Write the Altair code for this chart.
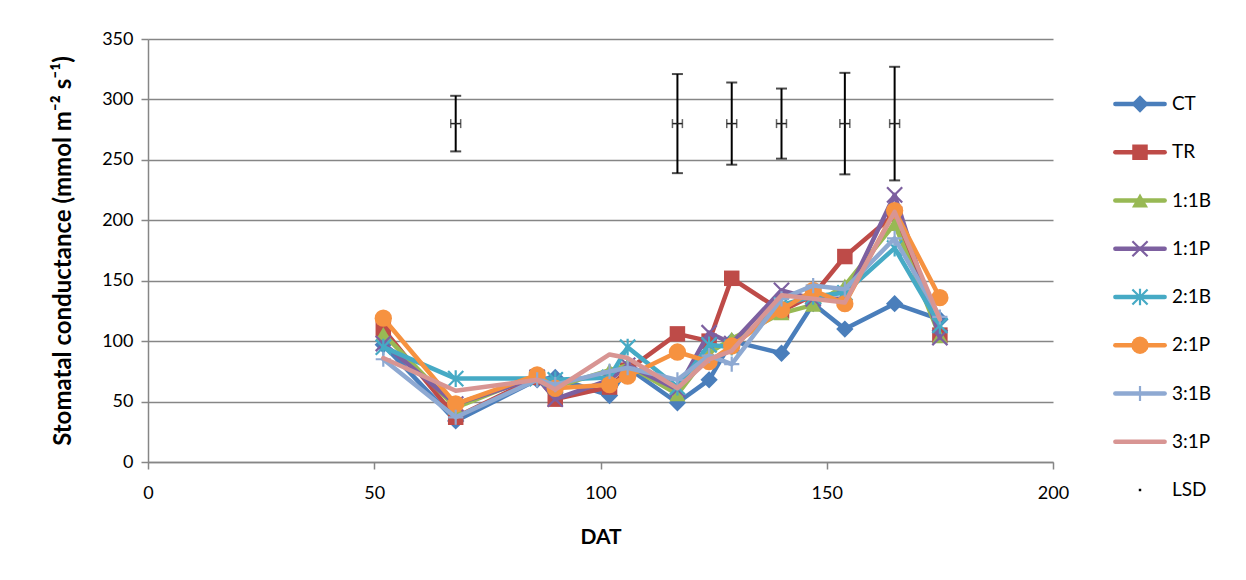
import altair as alt
import pandas as pd

# ---------------- data ----------------
days = [52, 68, 86, 90, 102, 106, 117, 124, 129, 140, 147, 154, 165, 175]
series_names = ["CT", "TR", "1:1B", "1:1P", "2:1B", "2:1P", "3:1B", "3:1P"]
ct = [97, 34, 68, 70, 55, 78, 49, 68, 100, 90, 131, 110, 131, 118]
tr = [110, 37, 70, 52, 62, 76, 106, 100, 152, 125, 138, 170, 205, 105]
b11 = [106, 45, 72, 62, 76, 80, 56, 90, 102, 123, 130, 146, 197, 104]
p11 = [98, 48, 70, 52, 68, 80, 60, 107, 98, 142, 135, 135, 221, 103]
b21 = [95, 69, 69, 68, 70, 95, 62, 97, 95, 130, 137, 140, 177, 113]
p21 = [119, 48, 72, 61, 64, 71, 91, 83, 96, 126, 142, 131, 208, 136]
b31 = [85, 37, 68, 64, 75, 78, 68, 88, 81, 135, 146, 143, 185, 120]
p31 = [86, 59, 68, 60, 89, 86, 61, 85, 92, 138, 135, 132, 207, 118]
series_values = [ct, tr, b11, p11, b21, p21, b31, p31]

lsd_days = [68, 117, 129, 140, 154, 165]
lsd_mid = [280, 280, 280, 280, 280, 280]
lsd_err = [23, 41, 34, 29, 42, 47]
lsd_xerr = [1.1, 1.1, 1.1, 1.1, 1.1, 1.1]

x_ticks = [0, 50, 100, 150, 200]
y_ticks = [0, 50, 100, 150, 200, 250, 300, 350]

# ---------------- styles ----------------
colors = ["#4A7EBB", "#BE4B48", "#98B954", "#7D60A0", "#46AAC5", "#F69240", "#8EA9D2", "#D89593"]
X_PATH = "M-1,-1L1,1M-1,1L1,-1"
AST_PATH = "M-1,-1L1,1M-1,1L1,-1M0,-1.1L0,1.1"
PLUS_PATH = "M0,-1L0,1M-1,0L1,0"
# (shape, filled, size)
markers = [
    ("diamond", True, 300),
    ("square", True, 240),
    ("triangle-up", True, 260),
    (X_PATH, False, 230),
    (AST_PATH, False, 230),
    ("circle", True, 300),
    (PLUS_PATH, False, 230),
    (None, None, None),
]

FONT = "Lato"
W, H = 905, 423
GRID = "#868686"

rows = []
for name, vals in zip(series_names, series_values):
    for d, v in zip(days, vals):
        rows.append({"series": name, "day": d, "value": v})
df = pd.DataFrame(rows)

lsd_df = pd.DataFrame({
    "day": lsd_days,
    "mid": lsd_mid,
    "lo": [m - e for m, e in zip(lsd_mid, lsd_err)],
    "hi": [m + e for m, e in zip(lsd_mid, lsd_err)],
    "xlo": [d - e for d, e in zip(lsd_days, lsd_xerr)],
    "xhi": [d + e for d, e in zip(lsd_days, lsd_xerr)],
})

xscale = alt.Scale(domain=[0, 200], nice=False, zero=False)
yscale = alt.Scale(domain=[0, 350], nice=False)

x_axis = alt.Axis(values=x_ticks, grid=False, title="DAT", format="d", labelFlush=False)
y_axis = alt.Axis(values=y_ticks, grid=True, title="Stomatal conductance (mmol m⁻² s⁻¹)", format="d")


def X(field):
    return alt.X(field, type="quantitative", scale=xscale, axis=x_axis)


def Y(field):
    return alt.Y(field, type="quantitative", scale=yscale, axis=y_axis)


layers = []
base = alt.Chart(df)
for name, col, (shape, filled, size) in zip(series_names, colors, markers):
    sub = base.transform_filter(alt.datum.series == name)
    layers.append(
        sub.mark_line(color=col, strokeWidth=4.5, strokeJoin="round", strokeCap="round")
        .encode(x=X("day"), y=Y("value"))
    )
    if shape is not None:
        if filled:
            pm = sub.mark_point(shape=shape, filled=True, size=size, color=col, opacity=1)
        else:
            pm = sub.mark_point(shape=shape, filled=False, size=size, color=col, strokeWidth=2.2, opacity=1)
        layers.append(pm.encode(x=X("day"), y=Y("value")))

lsd = alt.Chart(lsd_df)
layers += [
    lsd.mark_rule(color="black", strokeWidth=2).encode(x=X("day"), y=Y("lo"), y2="hi"),
    lsd.mark_tick(orient="horizontal", color="black", thickness=2, size=11).encode(x=X("day"), y=Y("lo")),
    lsd.mark_tick(orient="horizontal", color="black", thickness=2, size=11).encode(x=X("day"), y=Y("hi")),
    lsd.mark_rule(color="#222222", strokeWidth=1.5).encode(x=X("xlo"), x2="xhi", y=Y("mid")),
    lsd.mark_tick(orient="vertical", color="#222222", thickness=1.5, size=9).encode(x=X("xlo"), y=Y("mid")),
    lsd.mark_tick(orient="vertical", color="#222222", thickness=1.5, size=9).encode(x=X("xhi"), y=Y("mid")),
]

main = alt.layer(*layers)

# ---------------- legend (drawn to the right of the plot area) ----------------
legend_names = series_names + ["LSD"]
leg_df = pd.DataFrame({"name": legend_names, "idx": list(range(len(legend_names)))})
# legend column occupies pixels 964..1098 to the right of the plot origin; rows 48 px apart
lx = alt.Scale(domain=[0, 1], range=[964, 1020], nice=False, zero=False)
ly = alt.Scale(domain=[0, 8], range=[65, 451], nice=False, zero=False)
cscale = alt.Scale(domain=legend_names, range=colors + ["black"])
LX = lambda v: alt.X(datum=v, type="quantitative", scale=lx, axis=None)
LY = alt.Y("idx:Q", scale=ly, axis=None)

lbase = alt.Chart(leg_df)
leg_layers = [
    lbase.transform_filter(alt.datum.name != "LSD")
    .mark_rule(strokeWidth=4.5, strokeCap="round")
    .encode(x=LX(0.06), x2=alt.X2(datum=0.94), y=LY,
            color=alt.Color("name:N", scale=cscale, legend=None)),
]
for name, (shape, filled, size) in zip(series_names, markers):
    if shape is None:
        continue
    sub = lbase.transform_filter(alt.datum.name == name)
    if filled:
        pm = sub.mark_point(shape=shape, filled=True, size=size, opacity=1)
    else:
        pm = sub.mark_point(shape=shape, filled=False, size=size, strokeWidth=2.2, opacity=1)
    leg_layers.append(pm.encode(x=LX(0.5), y=LY, color=alt.Color("name:N", scale=cscale, legend=None)))
leg_layers.append(
    lbase.transform_filter(alt.datum.name == "LSD")
    .mark_point(shape="square", filled=True, size=6, color="black", opacity=1)
    .encode(x=LX(0.5), y=LY)
)
leg_layers.append(
    lbase.mark_text(align="left", baseline="middle", font=FONT, fontSize=19, color="black")
    .encode(x=LX(1.07), y=LY, text="name:N")
)
legend = alt.layer(*leg_layers)

chart = (
    alt.layer(main, legend)
    .resolve_scale(x="independent", y="independent", color="independent")
    .properties(
        width=W, height=H,
        autosize=alt.AutoSizeParams(type="none"),
        padding={"left": 148, "top": 39, "right": 193, "bottom": 118},
        background="white",
    )
    .configure_view(stroke=None)
    .configure_axis(
        labelFont=FONT, labelFontSize=18, labelColor="black",
        titleFont=FONT, titleFontSize=24, titleFontWeight="bold", titleColor="black",
        domainColor=GRID, domainWidth=1.5, tickColor=GRID, tickWidth=1.5,
        gridColor=GRID, gridWidth=1.5,
    )
    .configure_axisX(tickSize=7, labelPadding=15, titlePadding=24, titleFontSize=21)
    .configure_axisY(tickSize=7, labelPadding=8, titlePadding=26)
)

chart.save("out.html", embed_options={"renderer": "svg", "actions": False})
